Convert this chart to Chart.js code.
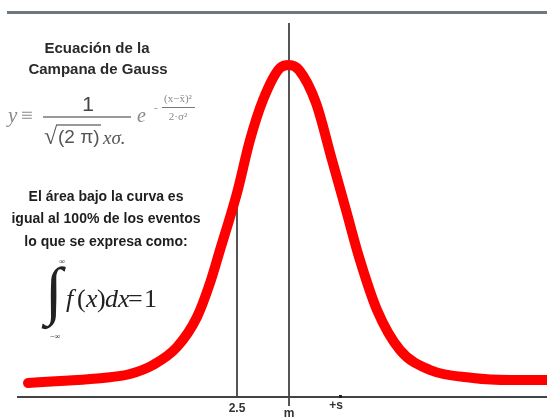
<!DOCTYPE html>
<html>
<head>
<meta charset="utf-8">
<script src="https://cdn.jsdelivr.net/npm/chart.js@4.4.0/dist/chart.umd.min.js"></script>
<style>
  html, body { margin: 0; padding: 0; background: #fff; }
  #wrap { width: 547px; height: 419px; }
</style>
</head>
<body>
<div id="wrap"><canvas id="myChart" width="547" height="419"></canvas></div>
<script>
// curve (x along the axis, y = height above the axis line)
const curveX = [28, 60, 103, 130, 153, 177, 197, 210, 220, 237, 250, 263, 280, 289, 299, 316, 332, 346, 359, 377, 400, 430, 473, 510, 547];
const curveY = [14, 16, 19, 23, 32, 50, 80, 114, 147, 204, 257, 297, 329, 332, 327, 294, 237, 187, 140, 87, 47, 27, 19, 17, 17];

// marks on the axis
const tickLabels = ['2.5', 'm', '+s'];
const tickValues = [237, 289, 340];
const markerTop = 190; // where the 2.5 line meets the curve

const titleLines = ['Ecuación de la', 'Campana de Gauss'];
const noteLines = ['El área bajo la curva es', 'igual al 100% de los eventos', 'lo que se expresa como:'];

const points = curveX.map((x, i) => ({ x: x, y: curveY[i] }));

// draws the axis, the guide lines and the text
const gaussPlugin = {
  id: 'gauss',
  beforeDatasetsDraw(chart) {
    const c = chart.ctx;
    const xs = chart.scales.x;
    const ys = chart.scales.y;
    const base = ys.getPixelForValue(0);
    c.save();
    // top grey bar
    c.fillStyle = '#6e7780';
    c.fillRect(7, 11, 540, 3);
    // m line
    c.strokeStyle = '#555';
    c.lineWidth = 2;
    const mx = Math.round(xs.getPixelForValue(tickValues[1]));
    c.beginPath();
    c.moveTo(mx, 23);
    c.lineTo(mx, base + 9);
    c.stroke();
    // 2.5 line
    const px = Math.round(xs.getPixelForValue(tickValues[0]));
    c.beginPath();
    c.moveTo(px, ys.getPixelForValue(markerTop));
    c.lineTo(px, base);
    c.stroke();
    // axis line
    c.strokeStyle = '#444';
    c.beginPath();
    c.moveTo(17, base);
    c.lineTo(547, base);
    c.stroke();
    // +s tick
    const sx = xs.getPixelForValue(tickValues[2]);
    c.fillStyle = '#222';
    c.fillRect(sx - 1, base - 2, 3, 3);
    c.restore();
  },
  afterDraw(chart) {
    const c = chart.ctx;
    const xs = chart.scales.x;
    const base = chart.scales.y.getPixelForValue(0);
    c.save();
    c.textBaseline = 'middle';
    c.textAlign = 'center';
    // tick labels
    c.fillStyle = '#333';
    c.font = 'bold 12px "Liberation Sans", Arial, sans-serif';
    c.fillText(tickLabels[0], xs.getPixelForValue(tickValues[0]), base + 12);
    c.fillText(tickLabels[1], xs.getPixelForValue(tickValues[1]), base + 17);
    c.fillText(tickLabels[2], xs.getPixelForValue(tickValues[2]) - 4, base + 9);

    // title
    c.fillStyle = '#2a2a2a';
    c.font = 'bold 15px "Liberation Sans", Arial, sans-serif';
    c.fillText(titleLines[0], 97, 49);
    c.fillText(titleLines[1], 98, 70);

    // formula
    c.fillStyle = '#8a8a8a';
    c.font = 'italic 21px "Liberation Serif", serif';
    c.textAlign = 'left';
    c.fillText('y', 8, 116);
    c.font = '21px "Liberation Serif", serif';
    c.fillText('≡', 21, 116);
    c.fillStyle = '#444';
    c.font = '21px "Liberation Sans", Arial, sans-serif';
    c.textAlign = 'center';
    c.fillText('1', 88, 105);
    c.strokeStyle = '#777';
    c.lineWidth = 1.5;
    c.beginPath();
    c.moveTo(43, 117); c.lineTo(131, 117);
    c.stroke();
    c.fillStyle = '#555';
    c.textAlign = 'left';
    c.font = '24px "Liberation Serif", serif';
    c.fillText('√', 44, 138);
    c.font = '19px "Liberation Sans", Arial, sans-serif';
    c.fillText('(2 π)', 58, 138);
    c.beginPath();
    c.moveTo(56, 125); c.lineTo(101, 125);
    c.stroke();
    c.font = 'italic 19px "Liberation Serif", serif';
    c.fillText('xσ.', 103, 139);
    c.fillStyle = '#888';
    c.font = 'italic 20px "Liberation Serif", serif';
    c.fillText('e', 137, 117);
    c.font = '11px "Liberation Serif", serif';
    c.fillText('-', 154, 108);
    c.textAlign = 'center';
    c.fillText('(x−x̄)²', 178, 99);
    c.fillText('2·σ²', 178, 117);
    c.lineWidth = 1;
    c.beginPath();
    c.moveTo(162, 107.5); c.lineTo(195, 107.5);
    c.stroke();

    // note
    c.fillStyle = '#1e1e1e';
    c.font = 'bold 14px "Liberation Sans", Arial, sans-serif';
    c.textAlign = 'center';
    noteLines.forEach((t, i) => c.fillText(t, 106, 197 + i * 22.5));

    // integral
    c.fillStyle = '#222';
    c.font = '64px "Liberation Serif", serif';
    c.textAlign = 'left';
    c.fillText('∫', 45, 295);
    c.font = '8px "Liberation Serif", serif';
    c.textAlign = 'center';
    c.fillText('∞', 62, 262);
    c.fillText('−∞', 55, 337);
    c.font = 'italic 26px "Liberation Serif", serif';
    c.textAlign = 'left';
    c.fillText('f', 66, 300);
    c.font = '26px "Liberation Serif", serif';
    c.fillText('(', 77, 300);
    c.font = 'italic 26px "Liberation Serif", serif';
    c.fillText('x', 86, 300);
    c.font = '26px "Liberation Serif", serif';
    c.fillText(')', 97, 300);
    c.font = 'italic 26px "Liberation Serif", serif';
    c.fillText('dx', 105, 300);
    c.font = '26px "Liberation Serif", serif';
    c.fillText('=', 128, 300);
    c.fillText('1', 144, 300);
    c.restore();
  }
};

const ctx = document.getElementById('myChart');
const myChart = new Chart(ctx, {
  type: 'line',
  data: {
    datasets: [{
      data: points,
      borderColor: '#ff0000',
      borderWidth: 10,
      borderCapStyle: 'round',
      borderJoinStyle: 'round',
      pointRadius: 0,
      cubicInterpolationMode: 'monotone',
      fill: false
    }]
  },
  options: {
    responsive: false,
    animation: false,
    devicePixelRatio: 1,
    layout: { padding: { top: 0, right: 0, bottom: 22, left: 0 } },
    plugins: { legend: { display: false }, tooltip: { enabled: false } },
    scales: {
      x: { type: 'linear', min: 0, max: 547, display: false },
      y: { min: 0, max: 397, display: false }
    }
  },
  plugins: [gaussPlugin]
});
</script>
</body>
</html>
